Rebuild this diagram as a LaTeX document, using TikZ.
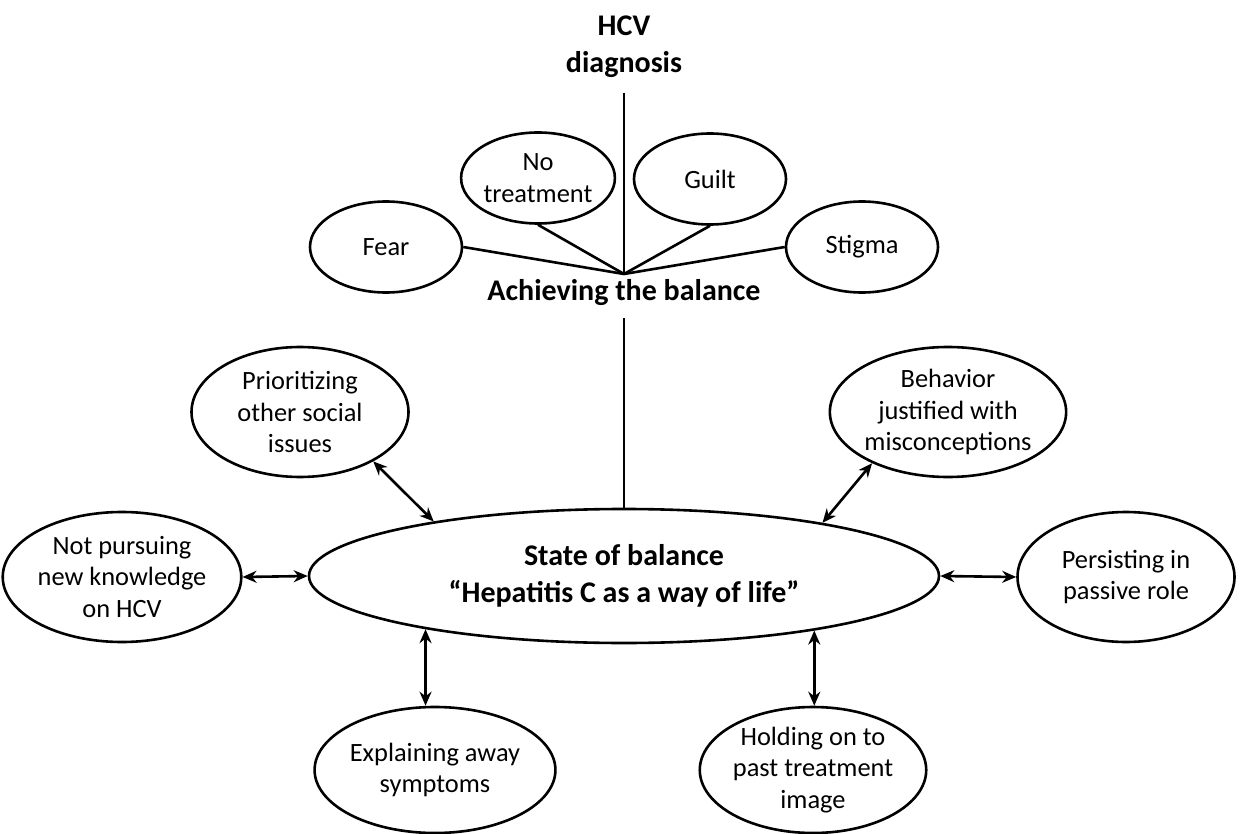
\documentclass[tikz,border=0pt]{standalone}
\usepackage{fontspec}
\setmainfont{Carlito}
\usetikzlibrary{shapes.geometric,arrows.meta}
\begin{document}
\begin{tikzpicture}[x=0.5pt,y=-0.5pt,
  oval/.style={ellipse,draw,line width=1.3pt,inner sep=0pt,align=center,
    font=\fontsize{13.2}{15.75}\selectfont},
  smalloval/.style={oval,minimum width=76pt,minimum height=45.5pt},
  bigoval/.style={oval,minimum width=108.5pt,minimum height=65pt},
  mainoval/.style={oval,minimum width=315pt,minimum height=67pt,
    font=\bfseries\fontsize{15}{18.5}\selectfont},
  boldlabel/.style={align=center,inner sep=0pt,font=\bfseries\fontsize{15}{18.3}\selectfont},
  link/.style={line width=1.3pt},
  biarrow/.style={line width=1.3pt,{Stealth[length=7pt,width=6pt]}-{Stealth[length=7pt,width=6pt]}}
]
\useasboundingbox (0,0) rectangle (1242,834);

% titles
\node[boldlabel] (hcv) at (624,47) {HCV\\diagnosis};
\node[boldlabel] (achieve) at (624,293) {Achieving the balance};

% upper ovals
\node[smalloval] (fear)    at (386,247) {Fear};
\node[smalloval] (notreat) at (538,178) {No\\treatment};
\node[smalloval] (guilt)   at (710,179) {Guilt};
\node[smalloval] (stigma)  at (862,247) {Stigma};

% junction and trunk
\coordinate (top) at (624,93);
\coordinate (J) at (624,274);
\coordinate (trunk) at (624,318);

% main oval
\node[mainoval] (main) at (624,576) {State of balance\\“Hepatitis C as a way of life”};

% outer ovals
\node[bigoval] (prior)   at (300,412) {Prioritizing\\other social\\issues};
\node[bigoval] (behav)   at (948,412) {Behavior\\justified with\\misconceptions};
\node[bigoval] (notpurs) at (122,577) {Not pursuing\\new knowledge\\on HCV};
\node[bigoval] (persist) at (1126,577) {Persisting in\\passive role};
\node[bigoval,minimum height=63pt] (explain) at (435,770) {Explaining away\\symptoms};
\node[bigoval,minimum height=63pt] (holding) at (813,770) {Holding on to\\past treatment\\image};

% connectors
\draw[link] (top) -- (J);
\draw[link] (fear.east) -- (J);
\draw[link] (notreat.south) -- (J);
\draw[link] (guilt.south) -- (J);
\draw[link] (stigma.west) -- (J);
\draw[link] (trunk) -- (main.north);

\draw[biarrow] (prior.-34.4) -- (main.164.2);
\draw[biarrow] (behav.214.4) -- (main.15.8);
\draw[biarrow] (notpurs.east) -- (main.west);
\draw[biarrow] (main.east) -- (persist.west);
\draw[biarrow] (main.195.8) -- (main.195.8 |- explain.north);
\draw[biarrow] (main.344.2) -- (main.344.2 |- holding.north);
\end{tikzpicture}
\end{document}
